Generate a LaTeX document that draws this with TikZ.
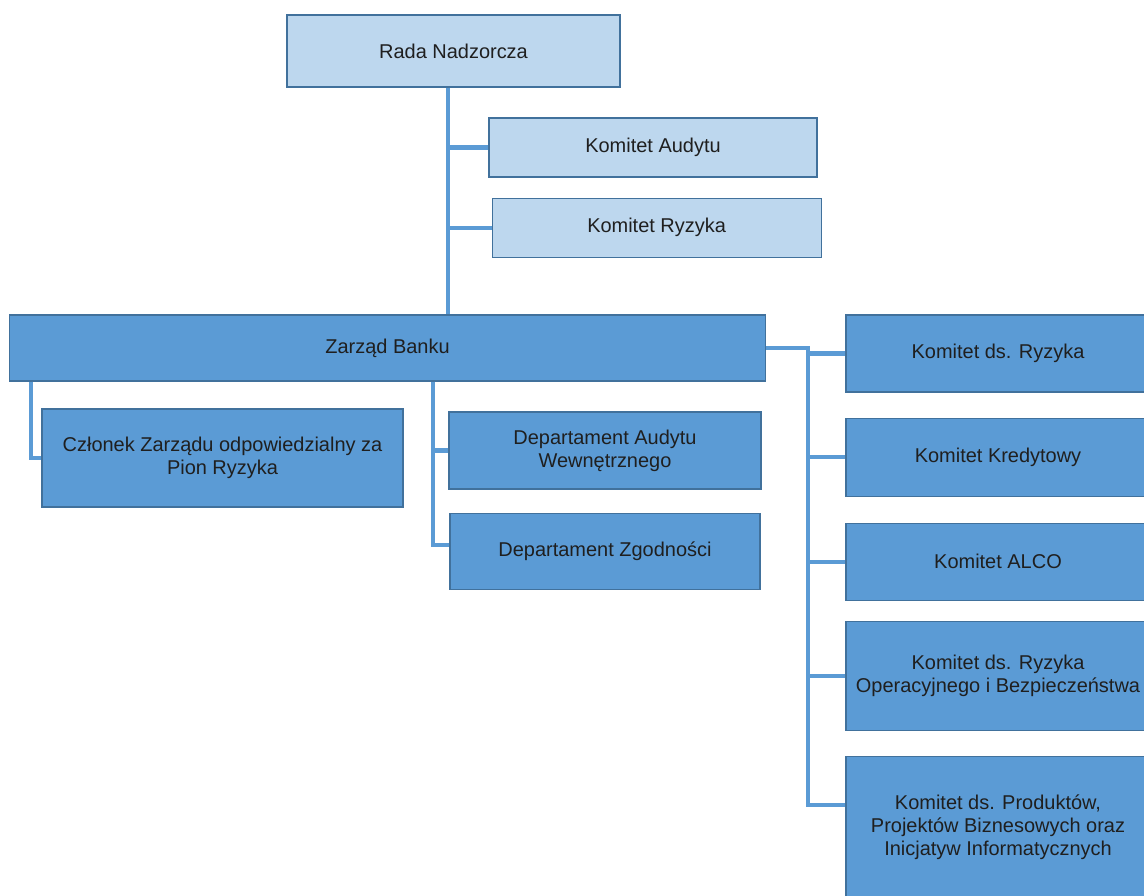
\documentclass[tikz,border=0pt]{standalone}
\usepackage{fontspec}
\setmainfont{Liberation Sans}
\usepackage{tikz}
\usetikzlibrary{positioning, calc}
\definecolor{boxdark}{HTML}{5B9BD5}
\definecolor{boxlight}{HTML}{BDD7EE}
\definecolor{boxline}{HTML}{41719C}
\definecolor{textdark}{HTML}{1F1F1F}

\begin{document}
\begin{tikzpicture}[
    x=0.025cm, y=-0.025cm,
    node distance=0.625cm,
    block/.style={
        rectangle,
        draw=boxline,
        line width=0.8pt,
        fill=boxdark,
        align=center,
        text=textdark,
        font=\fontsize{14.2}{16.4}\selectfont,
        inner sep=2pt
    },
    upper/.style={block, fill=boxlight},
    committee/.style={block, minimum width=7.6cm},
    link/.style={
        draw=boxdark,
        line width=3pt
    }
]

    \useasboundingbox (0,0) rectangle (1144,895);
    \clip (0,0) rectangle (1144,895);

    \node [upper, minimum width=8.325cm, minimum height=1.8cm] (rada) at (453.5,51) {Rada Nadzorcza};

    \node [upper, minimum width=8.2cm, minimum height=1.475cm] (kaud) at (653,147.5) {Komitet Audytu};

    \node [upper, minimum width=8.225cm, minimum height=1.475cm, below=0.5cm of kaud, xshift=0.09cm] (kryzrn) {Komitet Ryzyka};

    \node [block, minimum width=18.875cm, minimum height=1.65cm] (zarzad) at (387.5,348) {Zarząd Banku};

    \node [block, minimum width=9.025cm, minimum height=2.45cm] (czlonek) at (222.5,458) {Członek Zarządu odpowiedzialny za\\Pion Ryzyka};

    \node [block, minimum width=7.8cm, minimum height=1.925cm] (daw) at (605,450.5) {Departament Audytu\\Wewnętrznego};

    \node [block, minimum width=7.75cm, minimum height=1.9cm, below=0.575cm of daw] (dzg) {Departament Zgodności};

    \node [committee, minimum height=1.925cm] (kryz) at (998,353.5) {Komitet ds. Ryzyka};

    \node [committee, minimum height=1.95cm, below=0.625cm of kryz] (kkred) {Komitet Kredytowy};

    \node [committee, minimum height=1.925cm, below=0.65cm of kkred] (kalco) {Komitet ALCO};

    \node [committee, minimum height=2.725cm, below=0.5cm of kalco] (kops) {Komitet ds. Ryzyka\\Operacyjnego i Bezpieczeństwa};

    \node [committee, minimum height=3.525cm, below=0.625cm of kops] (kprod) {Komitet ds. Produktów,\\Projektów Biznesowych oraz\\Inicjatyw Informatycznych};

    \coordinate (spine) at ($(rada.south)+(-5.5,0)$);
    \coordinate (lbus) at ($(zarzad.south west)+(22,0)$);
    \coordinate (dbus) at ($(zarzad.south)+(45.5,0)$);
    \coordinate (rbus) at ($(zarzad.east)+(42,0)$);

    \draw [link] (spine) -- (spine |- zarzad.north);
    \draw [link] (kaud.west) -| (spine);
    \draw [link] (kryzrn.west) -| (spine);

    \draw [link] (lbus) |- (czlonek.west);
    \draw [link] (dbus) |- (daw.west);
    \draw [link] (dbus) |- ([yshift=1.5mm]dzg.west);

    \draw [link] (zarzad.east) -- (rbus) |- (kryz.west);
    \draw [link] (rbus) |- (kkred.west);
    \draw [link] (rbus) |- (kalco.west);
    \draw [link] (rbus) |- (kops.west);
    \draw [link] (rbus) |- ([yshift=5.5mm]kprod.west);

\end{tikzpicture}
\end{document}
